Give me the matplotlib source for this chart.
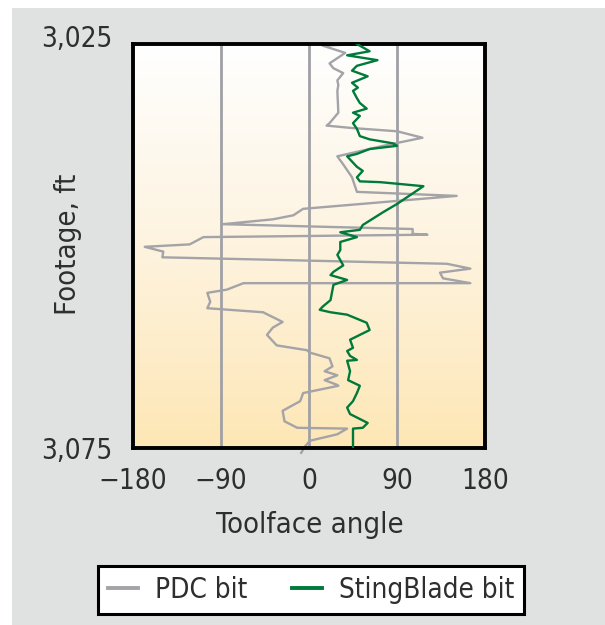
import matplotlib
matplotlib.use("Agg")
import matplotlib.pyplot as plt
import matplotlib.transforms as mtransforms
import numpy as np
from matplotlib import font_manager
from matplotlib.colors import LinearSegmentedColormap
from matplotlib.patches import Rectangle

installed = {f.name for f in font_manager.fontManager.ttflist}
condensed = any(f.name == "DejaVu Sans" and f.stretch not in ("normal", 500, 400)
                for f in font_manager.fontManager.ttflist)
if "Liberation Sans Narrow" in installed:
    plt.rcParams["font.family"] = ["Liberation Sans Narrow", "DejaVu Sans"]
elif condensed:
    plt.rcParams["font.family"] = ["DejaVu Sans"]
    plt.rcParams["font.stretch"] = "condensed"
else:
    plt.rcParams["font.family"] = ["Liberation Sans", "DejaVu Sans"]

COR_TEXTO = "#2e2e2e"
COR_PDC = "#a3a3a8"
COR_STING = "#007a3a"
COR_GRADE = "#a0a0a5"
COR_FUNDO = "#e0e2e1"

# PDC bit: toolface angle (deg) vs depth (ft)
pdc_angle = [55, 14, 37, 21, 25, 35, 29, 30, 29, 30, 21, 18, 44, 90, 116, 76, 29, 35, 44, 49,
             151, -6, -16, -37, -88, 8, 106, 106, 121, -108, -122, -168, -149, -150, 141, 165,
             134, 137, 165, -67, -84, -104, -101, -104, -47, -27, -37, -43, -33, -2, 1, 21, 24,
             16, 29, 16, 29, 30, -6, -9, -27, -25, -12, 39, 29, 1, -4, -8]
pdc_depth = [3025.0, 3025.2, 3026.1, 3027.4, 3028.0, 3028.6, 3029.5, 3030.1, 3030.8, 3033.5,
             3034.8, 3035.1, 3035.4, 3035.8, 3036.6, 3037.6, 3038.9, 3039.9, 3041.5, 3043.3,
             3043.8, 3045.4, 3046.2, 3046.7, 3047.3, 3047.6, 3047.9, 3048.5, 3048.6, 3048.9,
             3049.8, 3050.1, 3050.7, 3051.4, 3052.2, 3052.8, 3053.3, 3054.0, 3054.6, 3054.6,
             3055.4, 3055.8, 3056.9, 3057.7, 3058.2, 3059.4, 3060.1, 3061.0, 3062.3, 3062.9,
             3063.2, 3063.9, 3064.9, 3065.5, 3066.0, 3066.6, 3067.2, 3067.3, 3068.2, 3069.2,
             3070.4, 3071.7, 3072.5, 3072.6, 3073.3, 3074.1, 3074.8, 3075.6]

# StingBlade bit
sting_angle = [49, 62, 39, 70, 49, 44, 60, 44, 50, 45, 49, 52, 59, 45, 52, 45, 49, 52, 62, 86,
               90, 62, 49, 39, 49, 55, 49, 52, 73, 117, 90, 76, 55, 52, 32, 49, 32, 32, 29, 35,
               25, 22, 39, 25, 22, 14, 11, 22, 39, 59, 62, 52, 42, 45, 39, 42, 49, 39, 42, 40,
               52, 49, 45, 39, 42, 60, 55, 45, 45]
sting_depth = [3025.0, 3025.9, 3026.4, 3027.0, 3027.7, 3028.3, 3029.0, 3029.8, 3030.4, 3030.8,
               3031.7, 3032.3, 3033.0, 3033.5, 3033.9, 3034.8, 3035.5, 3036.4, 3036.8, 3037.3,
               3037.6, 3038.0, 3038.6, 3038.9, 3040.2, 3040.7, 3041.5, 3042.0, 3042.1, 3042.6,
               3044.8, 3045.8, 3047.4, 3048.0, 3048.3, 3048.9, 3049.5, 3050.5, 3051.1, 3052.4,
               3053.2, 3053.6, 3054.2, 3054.8, 3056.7, 3057.5, 3057.9, 3058.2, 3058.5, 3059.5,
               3060.4, 3061.0, 3061.6, 3062.6, 3063.0, 3063.6, 3064.1, 3064.2, 3065.5, 3066.6,
               3067.3, 3068.2, 3069.2, 3070.0, 3070.8, 3071.9, 3072.5, 3072.6, 3075.0]

x_ticks = [-180, -90, 0, 90, 180]
x_ticklabels = ["\u2212180", "\u221290", "0", "90", "180"]
y_ticks = [3025, 3075]
y_ticklabels = ["3,025", "3,075"]
grid_angles = [-90, 0, 90]

W, H = 605, 625
fig = plt.figure(figsize=(W / 100, H / 100), dpi=100, facecolor="white")
fig.patches.append(Rectangle((12 / W, 0), 1 - 12 / W, 1 - 8 / H, transform=fig.transFigure,
                             facecolor=COR_FUNDO, edgecolor="none", zorder=-10))

ax = fig.add_axes([133 / W, 1 - 448 / H, 352 / W, 404 / H])

gradiente = LinearSegmentedColormap.from_list("fundo", ["#ffffff", "#fdf3df", "#fde7b5"])
ax.imshow(np.linspace(0, 1, 256).reshape(-1, 1), cmap=gradiente, aspect="auto",
          extent=[-180, 180, 3075, 3025], zorder=0, interpolation="bilinear")

for g in grid_angles:
    ax.axvline(g, color=COR_GRADE, linewidth=2.0, zorder=1)

# the PDC trace pokes just below the frame in the original
ax.plot(pdc_angle, pdc_depth, color=COR_PDC, linewidth=1.7, zorder=2, label="PDC bit",
        clip_on=False)
ax.plot(sting_angle, sting_depth, color=COR_STING, linewidth=1.7, zorder=3, label="StingBlade bit")

ax.set_xlim(-180, 180)
ax.set_ylim(3075, 3025)
ax.set_xticks(x_ticks)
ax.set_xticklabels(x_ticklabels)
ax.set_yticks(y_ticks)
ax.set_yticklabels(y_ticklabels)
ax.tick_params(axis="both", length=0, labelsize=20, labelcolor=COR_TEXTO)
ax.tick_params(axis="x", pad=14)
ax.tick_params(axis="y", pad=15)
# top label sits slightly above the frame
lbl_top = ax.get_yticklabels()[0]
lbl_top.set_transform(lbl_top.get_transform() + mtransforms.ScaledTranslation(0, 8 / 100, fig.dpi_scale_trans))

for s in ax.spines.values():
    s.set_linewidth(2.8)
    s.set_color("black")

fig.text(310 / W, 1 - 525 / H, "Toolface angle", ha="center", va="center",
         fontsize=21, color=COR_TEXTO)
fig.text(68 / W, 1 - 244 / H, "Footage, ft", ha="center", va="center", rotation=90,
         fontsize=21, color=COR_TEXTO)

leg = fig.legend(loc="center", bbox_to_anchor=(311 / W, 1 - 590 / H), ncol=2,
                 fontsize=20, frameon=True, fancybox=False, framealpha=1, facecolor="white",
                 handlelength=1.1, handletextpad=0.6, columnspacing=1.6, borderpad=0.35)
leg.get_frame().set_edgecolor("black")
leg.get_frame().set_linewidth(2.2)
for h in leg.get_lines():
    h.set_linewidth(2.8)
for t in leg.get_texts():
    t.set_color(COR_TEXTO)

fig.savefig("out.png", dpi=100, facecolor=fig.get_facecolor())
